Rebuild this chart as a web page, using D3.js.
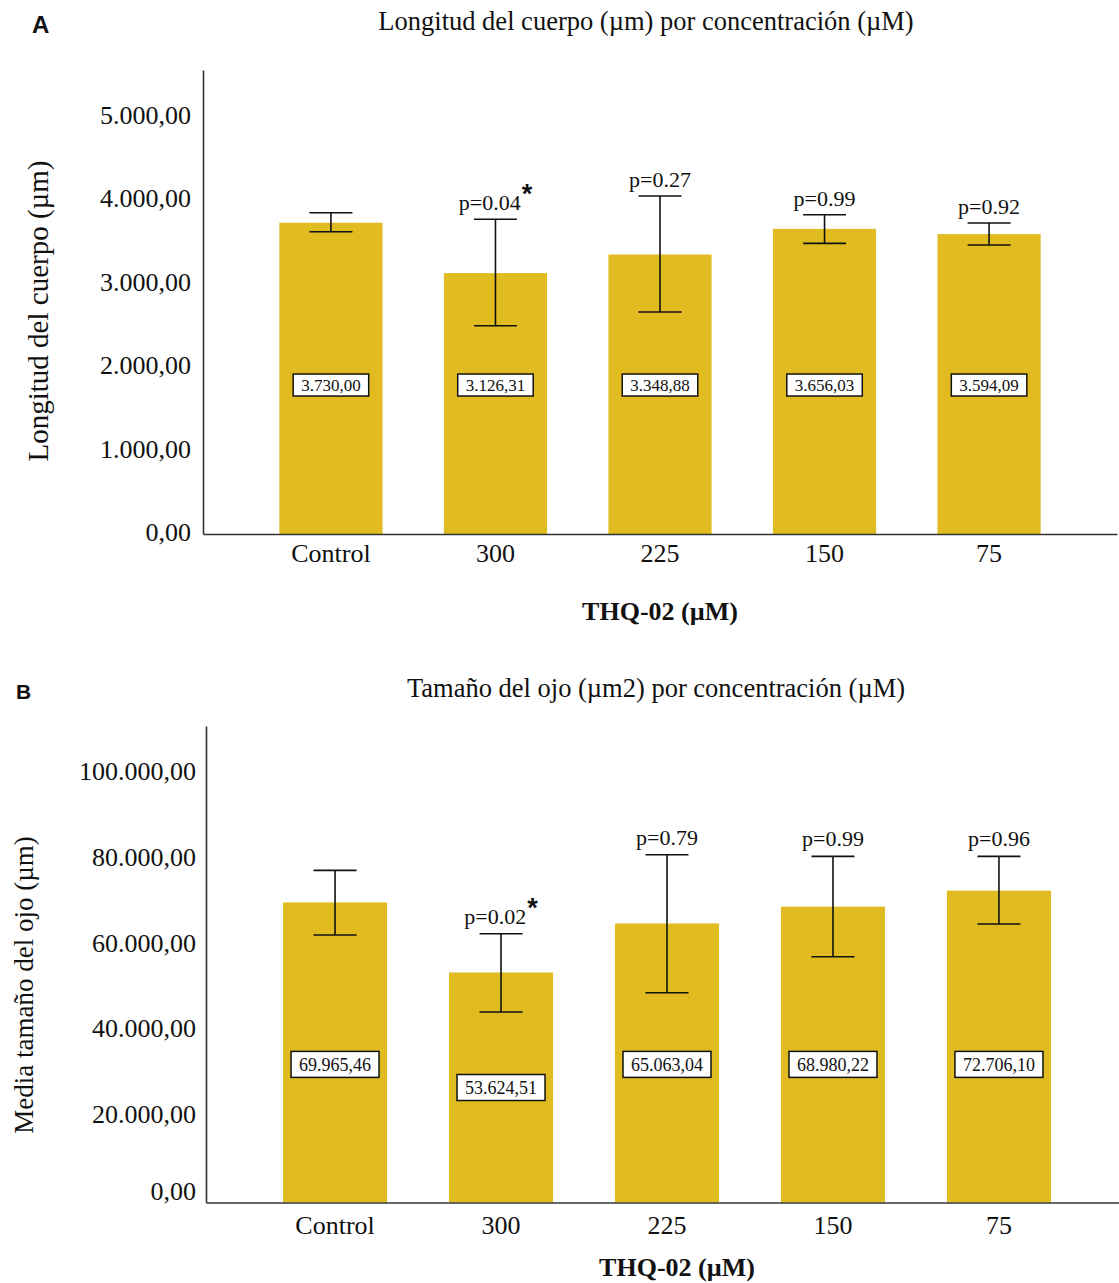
<!DOCTYPE html>
<html>
<head>
<meta charset="utf-8">
<script src="https://cdn.jsdelivr.net/npm/d3@7"></script>
<style>
  html, body { margin: 0; padding: 0; background: #fff; }
  svg { display: block; }
  text { font-family: "Liberation Serif", "Times New Roman", serif; fill: #111; }
</style>
</head>
<body>
<svg id="chart" width="1119" height="1283"></svg>
<script>
// ---------- DATA ----------
const categories = ["Control", "300", "225", "150", "75"];

// Panel A: body length (µm)
const bodyLengthMean  = [3730.00, 3126.31, 3348.88, 3656.03, 3594.09];
const bodyLengthLower = [3622, 2496, 2660, 3483, 3463];
const bodyLengthUpper = [3850, 3771, 4050, 3826, 3726];
const bodyPValues     = ["", "p=0.04", "p=0.27", "p=0.99", "p=0.92"];
const bodySignificant = [false, true, false, false, false];
const bodyTicks       = [0, 1000, 2000, 3000, 4000, 5000];

// Panel B: eye size (µm2)
const eyeSizeMean  = [69965.46, 53624.51, 65063.04, 68980.22, 72706.10];
const eyeSizeLower = [62354, 44406, 48904, 57296, 64918];
const eyeSizeUpper = [77436, 62657, 81072, 80700, 80700];
const eyePValues   = ["", "p=0.02", "p=0.79", "p=0.99", "p=0.96"];
const eyeSignificant = [false, true, false, false, false];
const eyeTicks     = [0, 20000, 40000, 60000, 80000, 100000];

// ---------- RENDER ----------
const esLocale = d3.formatLocale({decimal: ",", thousands: ".", grouping: [3], currency: ["", ""]});
const fmt = esLocale.format(",.2f");
const BAR = "#E0BC20";
const svg = d3.select("#chart");

function drawPanel(cfg) {
  const g = svg.append("g");
  const rows = categories.map((c, i) => ({
    cat: c, mean: cfg.mean[i], lo: cfg.lower[i], hi: cfg.upper[i],
    p: cfg.p[i], sig: cfg.sig[i]
  }));

  const x = d3.scaleBand().domain(categories)
    .range([cfg.left, cfg.right]).paddingInner(0.373).paddingOuter(0.464);
  const y = d3.scaleLinear().domain([0, cfg.yMax]).range([cfg.bottom, cfg.top]);

  // panel letter
  g.append("text").attr("x", cfg.letterX).attr("y", cfg.letterY)
    .style("font-family", "'Liberation Sans', Arial, sans-serif")
    .style("font-weight", "bold").style("font-size", cfg.letterSize + "px")
    .text(cfg.letter);

  // title
  g.append("text").attr("x", cfg.titleX).attr("y", cfg.titleY)
    .attr("text-anchor", "middle").style("font-size", "26.5px").text(cfg.title);

  // bars
  g.selectAll("rect.bar").data(rows).join("rect").attr("class", "bar")
    .attr("x", d => x(d.cat)).attr("width", x.bandwidth())
    .attr("y", d => y(d.mean)).attr("height", d => y(0) - y(d.mean))
    .attr("fill", BAR);

  // error bars
  const capW = 43;
  const eb = g.selectAll("g.eb").data(rows).join("g").attr("class", "eb")
    .attr("stroke", "#111").attr("stroke-width", 1.6);
  eb.append("line").attr("x1", d => x(d.cat) + x.bandwidth() / 2).attr("x2", d => x(d.cat) + x.bandwidth() / 2)
    .attr("y1", d => y(d.lo)).attr("y2", d => y(d.hi));
  eb.append("line").attr("x1", d => x(d.cat) + x.bandwidth() / 2 - capW / 2).attr("x2", d => x(d.cat) + x.bandwidth() / 2 + capW / 2)
    .attr("y1", d => y(d.hi)).attr("y2", d => y(d.hi));
  eb.append("line").attr("x1", d => x(d.cat) + x.bandwidth() / 2 - capW / 2).attr("x2", d => x(d.cat) + x.bandwidth() / 2 + capW / 2)
    .attr("y1", d => y(d.lo)).attr("y2", d => y(d.lo));

  // p-values
  const pt = g.selectAll("text.p").data(rows.filter(d => d.p)).join("text").attr("class", "p")
    .attr("x", d => x(d.cat) + x.bandwidth() / 2)
    .attr("y", d => y(d.hi) - cfg.pGap)
    .attr("text-anchor", "middle").style("font-size", "22px");
  pt.append("tspan").text(d => d.p);
  pt.filter(d => d.sig).append("tspan").attr("dy", -7).attr("dx", 1)
    .style("font-family", "'Liberation Sans', Arial, sans-serif")
    .style("font-weight", "bold").style("font-size", "27px").text("*");

  // value label boxes
  const vl = g.selectAll("g.vl").data(rows).join("g").attr("class", "vl")
    .attr("transform", d => `translate(${x(d.cat) + x.bandwidth() / 2},${y(cfg.labelValue(d.mean))})`);
  vl.append("rect").attr("fill", "#fff").attr("stroke", "#111").attr("stroke-width", 1.5);
  vl.append("text").attr("text-anchor", "middle").attr("dy", "0.35em")
    .style("font-size", cfg.valueSize + "px").text(d => fmt(d.mean));
  vl.each(function () {
    const t = d3.select(this).select("text").node();
    const w = t.getComputedTextLength() + 16;
    d3.select(this).select("rect").attr("x", -w / 2).attr("width", w)
      .attr("y", -cfg.boxH / 2).attr("height", cfg.boxH);
  });

  // axes
  const yAxis = d3.axisLeft(y).tickValues(cfg.ticks).tickFormat(fmt)
    .tickSizeInner(0).tickSizeOuter(0).tickPadding(cfg.yPad);
  const ya = g.append("g").attr("transform", `translate(${cfg.left},0)`).call(yAxis);
  ya.selectAll("text").style("font-family", "'Liberation Serif', 'Times New Roman', serif")
    .style("font-size", "26px").attr("fill", "#111")
    .attr("dy", (d) => d === 0 ? cfg.zeroDy : cfg.tickDy);
  ya.select(".domain").attr("stroke", "#333").attr("stroke-width", 1.6);

  const xAxis = d3.axisBottom(x).tickSizeInner(0).tickSizeOuter(0).tickPadding(cfg.xPad);
  const xa = g.append("g").attr("transform", `translate(0,${cfg.bottom})`).call(xAxis);
  xa.selectAll("text").style("font-family", "'Liberation Serif', 'Times New Roman', serif")
    .style("font-size", "26px").attr("fill", "#111");
  xa.select(".domain").attr("stroke", "#333").attr("stroke-width", 1.6);

  // axis titles
  g.append("text").attr("x", cfg.xTitleX).attr("y", cfg.xTitleY).attr("text-anchor", "middle")
    .style("font-size", "26px").style("font-weight", "bold").text("THQ-02 (µM)");
  g.append("text").attr("transform", `translate(${cfg.yTitleX},${cfg.yTitleY}) rotate(-90)`)
    .attr("text-anchor", "middle").style("font-size", cfg.yTitleSize + "px").text(cfg.yTitle);
}

drawPanel({
  letter: "A", letterX: 32, letterY: 33, letterSize: 24,
  title: "Longitud del cuerpo (µm) por concentración (µM)", titleX: 646, titleY: 30,
  mean: bodyLengthMean, lower: bodyLengthLower, upper: bodyLengthUpper,
  p: bodyPValues, sig: bodySignificant, ticks: bodyTicks,
  left: 203, right: 1117, top: 70, bottom: 534, yMax: 5560,
  pGap: 9, valueSize: 17, boxH: 22,
  labelValue: () => 1785,
  yPad: 12, tickDy: "0.25em", zeroDy: "0.25em", xPad: 10,
  xTitleX: 660, xTitleY: 620, yTitleX: 48, yTitleY: 311, yTitleSize: 29,
  yTitle: "Longitud del cuerpo (µm)"
});

drawPanel({
  letter: "B", letterX: 16, letterY: 699, letterSize: 21,
  title: "Tamaño del ojo (µm2) por concentración (µM)", titleX: 656, titleY: 697,
  mean: eyeSizeMean, lower: eyeSizeLower, upper: eyeSizeUpper,
  p: eyePValues, sig: eyeSignificant, ticks: eyeTicks,
  left: 206, right: 1128, top: 726, bottom: 1202.5, yMax: 111100,
  pGap: 10, valueSize: 18, boxH: 26,
  labelValue: (m) => Math.min(m / 2, 32200),
  yPad: 10, tickDy: "0.23em", zeroDy: "-0.1em", xPad: 13,
  xTitleX: 677, xTitleY: 1276, yTitleX: 33, yTitleY: 985, yTitleSize: 27,
  yTitle: "Media tamaño del ojo (µm)"
});
</script>
</body>
</html>
